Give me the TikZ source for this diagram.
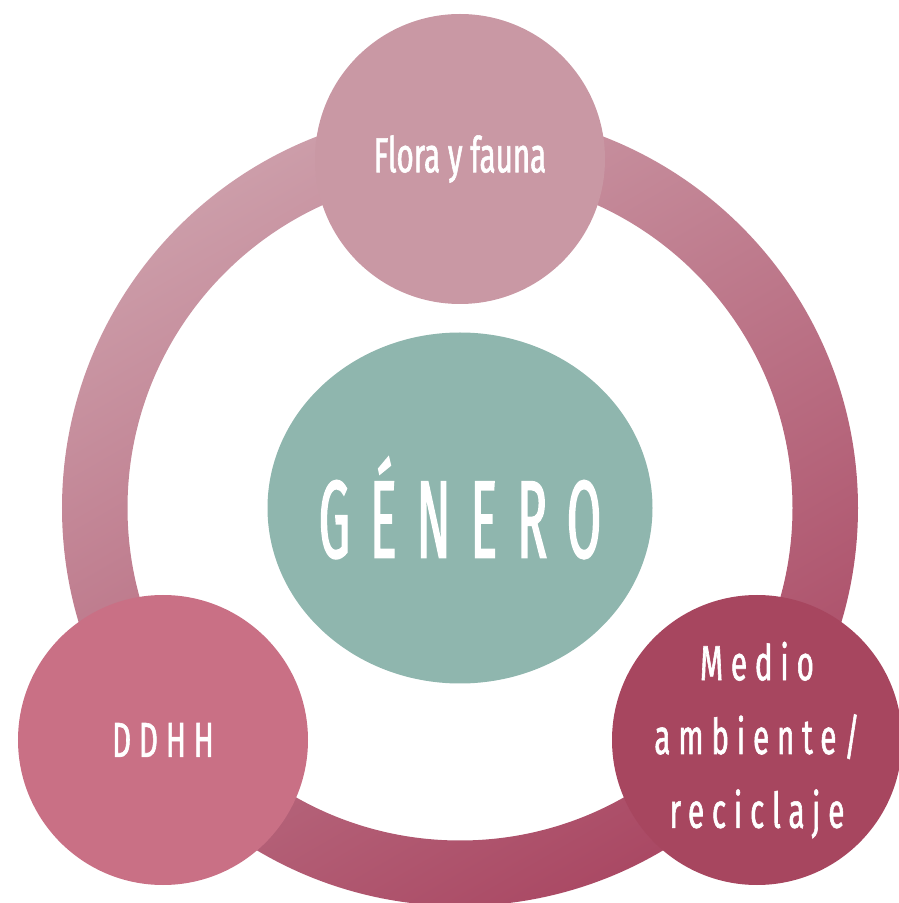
\documentclass[tikz,border=0pt]{standalone}
\usepackage{fontspec}
\setmainfont{Fira Sans}
\newfontfamily\labelfont[FakeStretch=0.6,FakeBold=1.2]{Fira Sans}
\newfontfamily\titlefont[FakeStretch=0.45,FakeBold=1.2,LetterSpace=18]{Fira Sans}
\usetikzlibrary{shapes,positioning}

\definecolor{ringlight}{HTML}{CC9DA9}
\definecolor{ringmid}{HTML}{C87589}
\definecolor{ringdark}{HTML}{AA4964}
\definecolor{florafill}{HTML}{C998A4}
\definecolor{ddhhfill}{HTML}{C97085}
\definecolor{mediofill}{HTML}{A7465F}
\definecolor{generofill}{HTML}{8FB6AE}

\begin{document}
\begin{tikzpicture}[
  topic/.style={circle, minimum size=5.8cm, inner sep=0pt, text=white, align=center,
    font=\labelfont\fontsize{28}{42}\selectfont},
  spaced/.style={font=\labelfont\addfontfeature{LetterSpace=16}\fontsize{28}{42}\selectfont},
  core/.style={ellipse, minimum width=7.7cm, minimum height=7.02cm, inner sep=0pt,
    fill=generofill},
  title/.style={text=white, inner sep=0pt, font=\titlefont\fontsize{63}{70}\selectfont}]
  \useasboundingbox (0,0) rectangle (17.98,18.06);
  \clip (0,0) rectangle (17.98,18.06);

  % Ring behind everything
  \coordinate (c) at (9.2,7.9);
  \shade[even odd rule, top color=ringlight, middle color=ringmid, bottom color=ringdark,
    shading angle=30]
    (c) circle (7.96cm) (c) circle (6.65cm);

  % Centre and the three topics
  \node[core] (genero) at (c) {};
  \node[title] (generotext) at (genero.center) {GÉNERO};
  \node[topic, fill=florafill] (flora) at (9.2,14.88) {Flora y fauna};
  \node[topic, spaced, fill=ddhhfill] (ddhh) at (3.26,3.26) {DDHH};
  \node[topic, spaced, fill=mediofill] (medio) at (15.14,3.26) {Medio\\ambiente/\\reciclaje};
\end{tikzpicture}
\end{document}
